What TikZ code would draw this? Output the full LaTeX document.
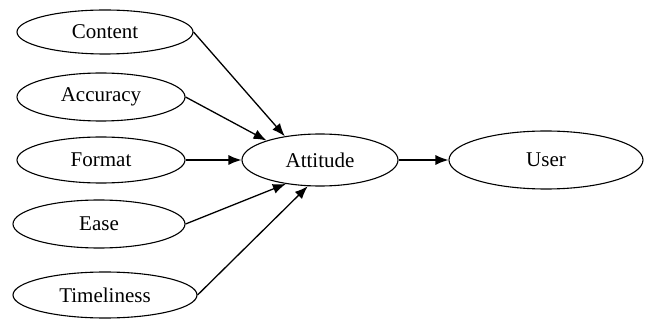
\documentclass[tikz,border=0pt]{standalone}
\usepackage{fontspec}
\setmainfont{Liberation Serif}
\usetikzlibrary{shapes.geometric,arrows.meta}
\begin{document}
\begin{tikzpicture}[x=1pt,y=-1pt,
  ell/.style={draw,ellipse,line width=1.1pt,inner sep=0pt,font=\fontsize{21}{23}\selectfont},
  arr/.style={line width=1.3pt,-{Latex[length=13pt,width=10pt]}}]
\useasboundingbox (0,0) rectangle (647,320);
\node[ell,minimum width=176,minimum height=44] (content) at (105,32) {Content};
\node[ell,minimum width=168,minimum height=48] (accuracy) at (101,97) {Accuracy};
\node[ell,minimum width=168,minimum height=46] (format) at (101,160) {Format};
\node[ell,minimum width=172,minimum height=48] (ease) at (99,224) {Ease};
\node[ell,minimum width=184,minimum height=46] (time) at (105,295) {Timeliness};
\node[ell,minimum width=156,minimum height=52] (att) at (320,160) {Attitude};
\node[ell,minimum width=194,minimum height=58] (user) at (546,160) {User};
\draw[arr] (content.east) -- (att.146);
\draw[arr] (accuracy.east) -- (att.160);
\draw[arr] (format.east) -- (att.west);
\draw[arr] (ease.east) -- (att.-145);
\draw[arr] (time.east) -- (att.-115);
\draw[arr] (att.east) -- (user.west);
\end{tikzpicture}
\end{document}
